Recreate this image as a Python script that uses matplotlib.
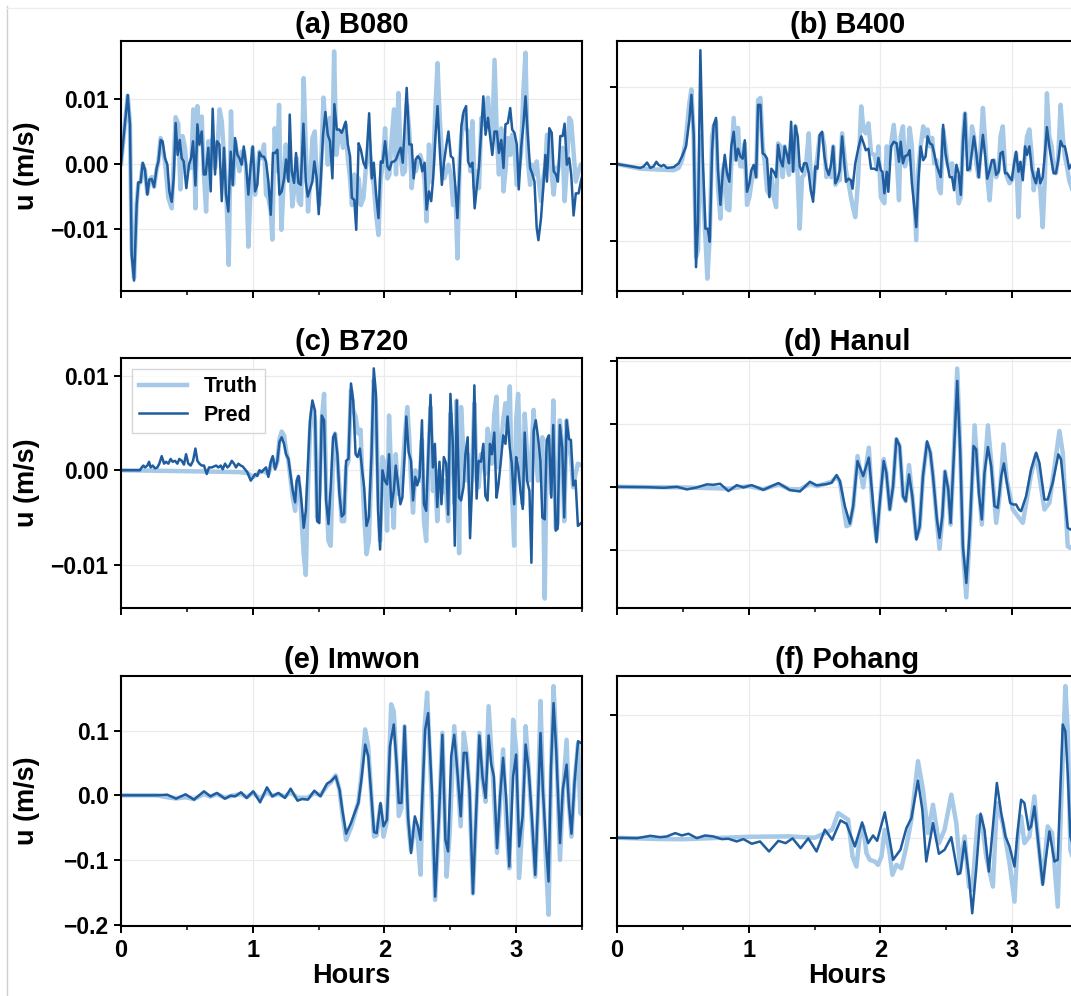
import matplotlib
matplotlib.use("Agg")
import matplotlib.pyplot as plt
from matplotlib.ticker import MultipleLocator
from matplotlib.lines import Line2D

plt.rcParams['font.family'] = ['Liberation Sans', 'DejaVu Sans']
plt.rcParams['font.weight'] = 'bold'
plt.rcParams['axes.titleweight'] = 'bold'
plt.rcParams['axes.labelweight'] = 'bold'
plt.rcParams['axes.unicode_minus'] = True

# ---------------- data: (hours, u [m/s]) ----------------
titles = ["(a) B080", "(b) B400", "(c) B720", "(d) Hanul", "(e) Imwon", "(f) Pohang"]

a_pred = [(0, 0), (0.051, 0.0106), (0.068, 0.0061), (0.081, -0.0139), (0.099, -0.0179), (0.119, -0.0063), (0.132, -0.0028), (0.149, -0.0028), (0.165, 0.0002), (0.182, -0.0009), (0.2, -0.0047), (0.215, -0.0024), (0.233, -0.0023), (0.251, -0.0035), (0.271, -0.0006), (0.284, 0.0004), (0.301, 0.0037), (0.316, 0.0035), (0.334, 0.0009), (0.352, -0.0001), (0.367, -0.0042), (0.385, -0.0058), (0.4, -0.0022), (0.415, 0.0063), (0.43, 0.0014), (0.446, 0.0037), (0.461, 0.0009), (0.476, 0.0004), (0.496, -0.0037), (0.516, -0.0001), (0.532, 0.0009), (0.547, 0.0035), (0.565, -0.0033), (0.58, 0.0061), (0.595, 0.003), (0.613, 0.005), (0.628, -0.0016), (0.643, -0.0016), (0.663, 0.0025), (0.681, -0.0042), (0.696, 0.0085), (0.714, -0.0016), (0.729, 0.0035), (0.747, 0.003), (0.765, -0.0057), (0.782, 0.0025), (0.797, -0.0047), (0.815, -0.0073), (0.833, 0.0019), (0.848, -0.0032), (0.866, 0.004), (0.884, 0.0014), (0.899, 0.0009), (0.916, -0.0001), (0.932, 0.0027), (0.949, -0.0001), (0.967, -0.0047), (0.985, -0.0001), (1.0, 0.0027), (1.018, -0.0042), (1.035, -0.0032), (1.051, 0.0018), (1.068, 0.0012), (1.086, 0.0011), (1.101, 0.0004), (1.119, -0.0027), (1.137, -0.0078), (1.154, 0.0017), (1.17, 0.0017), (1.187, 0.0022), (1.203, -0.0047), (1.22, -0.0042), (1.238, -0.0022), (1.253, 0.0007), (1.271, -0.0027), (1.281, 0.0076), (1.296, -0.0011), (1.314, -0.0029), (1.329, 0.0017), (1.347, -0.0029), (1.365, -0.0032), (1.385, 0.0062), (1.403, -0.0027), (1.418, -0.005), (1.435, -0.0039), (1.453, -0.0027), (1.468, 0.0004), (1.486, -0.0022), (1.501, -0.0077), (1.516, -0.0027), (1.534, 0.0045), (1.552, 0.008), (1.57, 0.0045), (1.587, 0.0035), (1.605, -0.0022), (1.62, 0.0092), (1.638, 0.0053), (1.656, 0.0053), (1.676, 0.0048), (1.689, 0.0055), (1.706, 0.0065), (1.722, 0.003), (1.739, 0.0012), (1.753, -0.0052), (1.771, -0.0055), (1.786, -0.0101), (1.804, 0.0032), (1.821, 0.0022), (1.841, 0.0002), (1.859, -0.0006), (1.884, 0.0078), (1.904, -0.0022), (1.919, 0.0002), (1.937, -0.0047), (1.955, -0.0083), (1.972, 0.0004), (1.987, 0.0002), (2.005, 0.0035), (2.023, -0.0004), (2.038, -0.0009), (2.055, 0.0003), (2.073, 0.0004), (2.088, 0.0007), (2.106, 0.0017), (2.123, 0.0025), (2.139, 0.0002), (2.169, 0.0117), (2.189, 0.003), (2.207, 0.003), (2.222, -0.0022), (2.237, 0.0007), (2.254, 0.0012), (2.272, 0.0007), (2.287, -0.0011), (2.305, 0.0002), (2.32, -0.007), (2.338, -0.0042), (2.355, -0.0057), (2.37, -0.0022), (2.388, 0.0045), (2.403, 0.0089), (2.421, 0.0019), (2.436, -0.0032), (2.453, 0.0004), (2.471, 0.003), (2.486, 0.005), (2.504, 0.0012), (2.521, 0.0009), (2.539, -0.0037), (2.554, -0.0083), (2.572, -0.0004), (2.584, 0.0058), (2.602, 0.0081), (2.62, 0.0089), (2.635, 0.0004), (2.652, -0.0004), (2.668, 0.0002), (2.685, -0.0068), (2.703, -0.0032), (2.718, -0.0004), (2.736, 0.0055), (2.751, 0.0104), (2.768, 0.0045), (2.786, 0.0071), (2.804, 0.004), (2.819, 0.0014), (2.836, 0.005), (2.854, 0.005), (2.869, 0.0017), (2.887, 0.0037), (2.904, -0.0006), (2.919, 0.0061), (2.937, 0.0063), (2.955, 0.0086), (2.97, 0.0053), (2.987, 0.0048), (3.005, 0.003), (3.02, -0.0039), (3.038, 0.0025), (3.055, 0.0061), (3.071, 0.0104), (3.088, 0.0045), (3.106, -0.0006), (3.121, -0.0014), (3.139, -0.0027), (3.156, -0.0098), (3.169, -0.0117), (3.189, -0.0083), (3.207, -0.0032), (3.222, 0.0014), (3.234, -0.0027), (3.252, 0.0055), (3.27, 0.0048), (3.285, -0.0011), (3.302, -0.0016), (3.317, -0.0027), (3.335, 0.0043), (3.353, 0.0043), (3.368, 0.0062), (3.385, -0.0001), (3.403, 0.0009), (3.418, -0.0016), (3.436, -0.0079), (3.453, -0.0045), (3.474, -0.0045), (3.491, -0.0027), (3.5, -0.002)]

a_truth = [(0, 0), (0.051, 0.0105), (0.068, 0.006), (0.081, -0.013), (0.099, -0.0175), (0.119, -0.006), (0.132, -0.003), (0.149, -0.0028), (0.165, 0.0), (0.182, -0.001), (0.2, -0.0045), (0.215, -0.0025), (0.233, -0.002), (0.251, -0.0035), (0.271, -0.0008), (0.284, 0.0005), (0.301, 0.004), (0.334, 0.0004), (0.359, -0.0052), (0.385, -0.0068), (0.415, 0.0072), (0.435, 0.0061), (0.451, -0.0039), (0.468, 0.0043), (0.486, 0.0025), (0.501, -0.0011), (0.516, -0.0001), (0.534, -0.0006), (0.549, 0.0084), (0.565, -0.0068), (0.58, 0.0089), (0.595, 0.003), (0.613, 0.0073), (0.628, -0.0011), (0.646, -0.0073), (0.663, 0.0035), (0.681, 0.0014), (0.696, 0.004), (0.714, -0.0006), (0.732, 0.0025), (0.749, 0.0084), (0.765, 0.0066), (0.782, 0.0014), (0.8, -0.0047), (0.818, -0.0155), (0.835, 0.0081), (0.851, -0.0032), (0.866, 0.0035), (0.884, 0.0009), (0.899, -0.0011), (0.916, 0.0019), (0.934, 0.0019), (0.949, -0.0006), (0.967, -0.0127), (0.985, -0.0032), (1.0, 0.0025), (1.018, -0.0047), (1.035, -0.0011), (1.051, 0.0019), (1.068, 0.0009), (1.086, 0.003), (1.101, -0.0047), (1.119, -0.0052), (1.137, -0.0073), (1.149, -0.0116), (1.167, 0.0055), (1.185, -0.0011), (1.2, 0.0091), (1.218, -0.0101), (1.235, -0.0027), (1.251, 0.003), (1.268, -0.0022), (1.284, 0.0004), (1.301, -0.0065), (1.316, -0.0037), (1.334, 0.0009), (1.349, -0.0057), (1.367, -0.0063), (1.387, 0.0132), (1.403, 0.0025), (1.42, -0.0073), (1.438, -0.0022), (1.453, 0.004), (1.471, 0.005), (1.486, -0.0022), (1.504, -0.0063), (1.522, 0.0014), (1.537, 0.0102), (1.554, 0.0055), (1.57, -0.0001), (1.587, 0.0071), (1.605, 0.0025), (1.618, 0.0173), (1.635, 0.0014), (1.651, 0.004), (1.668, 0.005), (1.686, 0.0025), (1.704, 0.0061), (1.722, 0.0009), (1.739, -0.0022), (1.753, -0.0063), (1.771, -0.0016), (1.786, -0.0063), (1.804, -0.0022), (1.821, -0.0063), (1.841, -0.0052), (1.859, -0.0006), (1.884, 0.0035), (1.904, -0.0016), (1.919, -0.0032), (1.937, -0.0078), (1.955, -0.0109), (1.972, -0.0022), (1.987, -0.0001), (2.005, 0.0055), (2.023, -0.0022), (2.038, -0.0016), (2.055, 0.004), (2.073, 0.0084), (2.088, -0.0016), (2.106, 0.0109), (2.123, 0.0014), (2.139, -0.0016), (2.156, -0.0011), (2.171, 0.0091), (2.189, 0.005), (2.207, -0.0037), (2.222, -0.0006), (2.239, -0.0011), (2.257, 0.0004), (2.272, 0.0014), (2.29, -0.0001), (2.305, -0.0027), (2.32, -0.0088), (2.338, 0.003), (2.355, -0.0027), (2.37, -0.0001), (2.388, 0.0091), (2.403, 0.0155), (2.421, 0.0066), (2.436, 0.0019), (2.453, -0.0022), (2.471, -0.0011), (2.486, -0.0001), (2.504, -0.0016), (2.521, -0.0063), (2.539, -0.0037), (2.554, -0.0145), (2.572, 0.0009), (2.584, 0.004), (2.602, 0.0076), (2.62, 0.0055), (2.635, 0.005), (2.652, -0.0011), (2.668, 0.0066), (2.685, -0.0037), (2.703, -0.0011), (2.718, -0.0037), (2.736, 0.0071), (2.751, 0.0061), (2.768, 0.0076), (2.786, 0.0102), (2.804, 0.0055), (2.819, 0.004), (2.836, 0.016), (2.854, 0.004), (2.869, -0.0016), (2.887, 0.0055), (2.904, -0.0042), (2.919, -0.0011), (2.937, 0.004), (2.955, 0.0014), (2.97, 0.0045), (2.987, 0.0025), (3.005, -0.0032), (3.02, -0.0011), (3.038, 0.0019), (3.055, 0.0112), (3.071, 0.0171), (3.088, 0.0009), (3.106, -0.0032), (3.121, -0.0001), (3.139, -0.0016), (3.156, 0.0004), (3.169, -0.0022), (3.189, -0.0057), (3.207, -0.0022), (3.222, -0.0001), (3.234, 0.0045), (3.252, 0.0045), (3.27, -0.0016), (3.285, -0.0047), (3.302, -0.0006), (3.317, -0.0011), (3.335, 0.0009), (3.353, 0.0025), (3.368, -0.0057), (3.385, -0.0006), (3.403, 0.0071), (3.418, 0.0066), (3.436, 0.0019), (3.453, -0.0027), (3.474, -0.0011), (3.491, -0.0001), (3.5, 0.0)]

b_pred = [(0, 0), (0.177, -0.0005), (0.203, -0.0003), (0.228, 0.0002), (0.253, -0.0005), (0.278, -0.0003), (0.299, 0.0003), (0.316, -0.0001), (0.337, -0.0003), (0.354, -0.0001), (0.38, -0.0005), (0.43, -0.0004), (0.468, 0.0001), (0.494, 0.001), (0.524, 0.0023), (0.549, 0.0057), (0.565, 0.009), (0.582, 0.004), (0.6, -0.0134), (0.615, -0.0077), (0.633, 0.0148), (0.651, 0.001), (0.671, -0.0084), (0.689, -0.0084), (0.704, -0.0101), (0.722, 0.0018), (0.734, 0.0051), (0.752, 0.006), (0.767, -0.0008), (0.785, -0.0053), (0.803, -0.0012), (0.818, 0.0012), (0.835, -0.0012), (0.853, -0.0023), (0.868, 0.0023), (0.886, 0.0042), (0.904, 0.0005), (0.919, 0.002), (0.937, 0.001), (0.954, 0.0007), (0.97, 0.0031), (0.987, -0.0036), (1.005, -0.0025), (1.02, -0.0008), (1.038, -0.0001), (1.056, -0.0017), (1.071, 0.0077), (1.089, 0.0077), (1.106, 0.0014), (1.122, 0.0012), (1.139, 0.0007), (1.157, -0.0043), (1.172, -0.0006), (1.19, -0.001), (1.208, -0.0017), (1.223, 0.0025), (1.241, 0.0005), (1.258, -0.0003), (1.273, 0.0023), (1.291, 0.0012), (1.306, 0.0001), (1.322, 0.0055), (1.337, -0.001), (1.354, 0.005), (1.372, 0.0036), (1.387, -0.0003), (1.405, -0.001), (1.42, 0.0001), (1.438, 0.0001), (1.456, -0.0012), (1.471, -0.0034), (1.489, -0.0049), (1.506, -0.0003), (1.522, -0.0006), (1.539, 0.0038), (1.557, 0.0042), (1.575, 0.001), (1.59, -0.0006), (1.608, -0.0014), (1.625, -0.0001), (1.641, 0.0023), (1.658, -0.0025), (1.676, -0.0019), (1.691, -0.0008), (1.709, 0.0036), (1.738, -0.0023), (1.758, -0.0019), (1.776, -0.0021), (1.788, -0.0032), (1.809, 0.0001), (1.829, 0.0018), (1.854, 0.0036), (1.872, 0.0027), (1.889, 0.0018), (1.909, 0.002), (1.929, -0.0006), (1.955, -0.0006), (1.972, -0.0008), (1.985, 0.0008), (2.003, -0.0008), (2.015, -0.001), (2.03, -0.0038), (2.048, -0.001), (2.06, -0.0036), (2.081, 0.0023), (2.101, 0.0029), (2.123, 0.0027), (2.141, 0.0003), (2.154, 0.0029), (2.171, 0.0001), (2.186, 0.001), (2.207, 0.0012), (2.222, 0.0018), (2.239, -0.0025), (2.257, -0.0055), (2.272, -0.0082), (2.287, -0.0025), (2.305, 0.0023), (2.325, 0.0005), (2.343, 0.001), (2.358, 0.0036), (2.375, 0.0027), (2.393, 0.0025), (2.408, 0.0014), (2.426, -0.0001), (2.443, -0.001), (2.458, -0.0017), (2.476, 0.0051), (2.494, 0.0014), (2.509, -0.0001), (2.526, -0.0017), (2.544, -0.0017), (2.559, -0.0034), (2.577, -0.0001), (2.594, -0.0012), (2.61, -0.004), (2.627, 0.0029), (2.642, 0.0066), (2.66, -0.0008), (2.678, -0.0006), (2.695, 0.0016), (2.71, 0.0036), (2.728, 0.0014), (2.746, -0.0017), (2.761, 0.001), (2.778, 0.0038), (2.796, 0.001), (2.811, -0.0019), (2.829, -0.0008), (2.846, 0.0005), (2.861, 0.0005), (2.879, -0.0014), (2.897, -0.001), (2.912, 0.0014), (2.929, 0.0016), (2.947, -0.0012), (2.962, -0.0012), (2.98, -0.0017), (2.997, -0.0021), (3.013, -0.0001), (3.03, 0.0016), (3.048, -0.001), (3.063, 0.0003), (3.081, -0.0021), (3.098, 0.0023), (3.113, 0.0012), (3.131, 0.0023), (3.149, -0.0006), (3.164, -0.0017), (3.181, -0.0025), (3.199, -0.0006), (3.214, -0.0025), (3.232, -0.0017), (3.249, 0.0014), (3.264, 0.0048), (3.282, 0.0023), (3.3, 0.0003), (3.315, -0.0012), (3.332, -0.0012), (3.35, 0.0005), (3.368, 0.003), (3.385, 0.0023), (3.4, 0.0023), (3.416, 0.001), (3.433, -0.0006), (3.47, 0.0005), (3.5, -0.001)]

b_truth = [(0, 0), (0.177, -0.0006), (0.3, -0.0007), (0.43, -0.0008), (0.468, -0.0005), (0.494, 0.0005), (0.519, 0.0027), (0.549, 0.0079), (0.565, 0.0097), (0.582, 0.0036), (0.6, -0.0121), (0.615, -0.0112), (0.633, 0.0036), (0.651, -0.003), (0.671, -0.0095), (0.686, -0.0149), (0.704, -0.0095), (0.722, 0.0036), (0.734, 0.0049), (0.752, 0.0055), (0.767, -0.003), (0.785, -0.0071), (0.803, -0.0008), (0.818, 0.0001), (0.835, -0.0058), (0.853, -0.006), (0.868, 0.0001), (0.886, 0.006), (0.904, 0.0005), (0.919, 0.0047), (0.937, -0.0003), (0.954, -0.0003), (0.97, 0.0027), (0.987, -0.0053), (1.005, -0.0043), (1.02, -0.0025), (1.038, -0.0006), (1.056, -0.0017), (1.071, 0.0083), (1.089, 0.0086), (1.106, 0.0023), (1.122, 0.0001), (1.139, -0.0034), (1.157, -0.004), (1.172, -0.0017), (1.19, -0.0043), (1.208, -0.0056), (1.223, 0.0027), (1.241, 0.0023), (1.258, -0.0017), (1.273, 0.0023), (1.291, 0.0001), (1.306, -0.0014), (1.322, 0.0031), (1.337, -0.0008), (1.354, 0.0049), (1.372, -0.0017), (1.387, -0.0084), (1.405, -0.0017), (1.42, -0.0014), (1.438, 0.0005), (1.456, 0.004), (1.471, -0.0017), (1.489, -0.0038), (1.506, -0.0008), (1.522, 0.001), (1.539, 0.0036), (1.557, 0.004), (1.575, 0.0023), (1.59, -0.0017), (1.608, -0.0008), (1.625, -0.0017), (1.641, 0.0023), (1.658, -0.0027), (1.676, -0.0021), (1.691, -0.0021), (1.709, 0.004), (1.738, -0.0008), (1.758, -0.0025), (1.776, -0.0043), (1.796, -0.006), (1.809, -0.0069), (1.829, -0.0025), (1.854, 0.0075), (1.872, 0.0045), (1.889, 0.004), (1.909, 0.0053), (1.929, 0.0014), (1.955, 0.0012), (1.972, -0.0003), (1.985, 0.0023), (2.003, -0.0043), (2.015, -0.0047), (2.03, -0.0051), (2.048, 0.0023), (2.06, 0.0001), (2.081, 0.0027), (2.101, 0.0051), (2.123, 0.001), (2.141, -0.0047), (2.154, 0.0036), (2.171, 0.0049), (2.186, -0.0003), (2.207, 0.001), (2.222, 0.0047), (2.239, 0.0023), (2.257, -0.0043), (2.272, -0.0099), (2.287, -0.0008), (2.305, 0.0023), (2.325, 0.0049), (2.343, 0.0036), (2.358, 0.0045), (2.375, 0.0023), (2.393, 0.0034), (2.408, 0.0001), (2.426, 0.0005), (2.443, -0.0032), (2.458, -0.0038), (2.476, 0.0045), (2.494, 0.0023), (2.509, 0.0001), (2.526, -0.0008), (2.544, 0.0001), (2.559, -0.0021), (2.577, -0.0017), (2.594, -0.0051), (2.61, -0.0043), (2.627, 0.0036), (2.642, 0.0066), (2.66, 0.0014), (2.678, -0.0008), (2.695, 0.0049), (2.71, 0.0036), (2.728, 0.0001), (2.746, -0.0017), (2.761, 0.0023), (2.778, 0.0073), (2.796, 0.0027), (2.811, -0.0017), (2.829, -0.0047), (2.846, -0.0008), (2.861, 0.0005), (2.879, -0.0017), (2.897, -0.0008), (2.912, 0.0036), (2.929, 0.0049), (2.947, -0.0008), (2.962, -0.0017), (2.98, -0.0025), (2.997, -0.0021), (3.013, -0.0012), (3.03, 0.0014), (3.048, -0.0069), (3.063, 0.0001), (3.081, -0.0008), (3.098, 0.001), (3.113, 0.0036), (3.131, 0.0045), (3.149, 0.001), (3.164, -0.0034), (3.181, -0.0012), (3.199, -0.0017), (3.214, -0.0034), (3.232, -0.0082), (3.249, -0.0017), (3.264, 0.0092), (3.282, 0.0036), (3.3, 0.0023), (3.315, -0.0008), (3.332, -0.0012), (3.35, 0.001), (3.368, 0.0077), (3.385, 0.0036), (3.4, 0.001), (3.416, -0.0003), (3.433, -0.0021), (3.46, -0.0035), (3.5, -0.002)]

c_pred = [(0, 0), (0.144, 0), (0.157, 0.0003), (0.17, 0.0005), (0.182, 0.0003), (0.2, 0.0005), (0.213, 0.0009), (0.225, 0.0003), (0.241, 0.0005), (0.258, 0.0002), (0.276, 0.0003), (0.291, 0.0007), (0.309, 0.0015), (0.327, 0.0007), (0.342, 0.0009), (0.359, 0.0007), (0.377, 0.0012), (0.392, 0.0009), (0.41, 0.001), (0.428, 0.0007), (0.443, 0.0012), (0.461, 0.001), (0.478, 0.0006), (0.494, 0.0017), (0.511, 0.0007), (0.529, 0.0005), (0.547, 0.001), (0.565, 0.0023), (0.58, 0.001), (0.595, 0.0007), (0.613, 0.0005), (0.63, 0.0005), (0.651, -0.0004), (0.668, 0.0003), (0.689, 0.0003), (0.706, 0.0004), (0.722, 0.0005), (0.739, 0.0003), (0.757, 0.0005), (0.772, 0.0001), (0.79, 0.0007), (0.808, 0.0003), (0.823, 0.0005), (0.841, 0.001), (0.858, 0.0007), (0.873, 0.0003), (0.891, 0.0007), (0.909, 0.0005), (0.924, 0.0004), (0.942, 0.0001), (0.959, -0.0002), (0.985, -0.0011), (1.0, -0.0008), (1.018, -0.0004), (1.035, -0.0006), (1.051, 0), (1.068, -0.0002), (1.086, 0.0001), (1.101, 0.0003), (1.119, -0.0007), (1.137, 0.0009), (1.152, 0.0015), (1.17, 0.0001), (1.187, 0.001), (1.203, 0.003), (1.22, 0.0035), (1.238, 0.0028), (1.253, 0.0017), (1.271, 0.0012), (1.289, -0.0007), (1.304, -0.0022), (1.322, -0.0034), (1.334, -0.0011), (1.347, -0.0006), (1.359, -0.0018), (1.372, -0.0036), (1.387, -0.0061), (1.403, -0.0043), (1.418, 0.0003), (1.435, 0.0053), (1.453, 0.0074), (1.473, 0.0063), (1.489, -0.0054), (1.506, -0.0056), (1.524, 0.0058), (1.542, 0.0053), (1.557, -0.0032), (1.575, -0.0057), (1.592, -0.0018), (1.61, 0.0035), (1.625, 0.0039), (1.643, 0.0017), (1.658, -0.0025), (1.676, -0.0049), (1.694, -0.0046), (1.709, 0.001), (1.727, 0.0012), (1.746, 0.0092), (1.763, 0.0074), (1.781, 0.0017), (1.796, 0.0014), (1.814, 0.0023), (1.831, 0.0), (1.846, -0.0018), (1.864, -0.0059), (1.882, -0.005), (1.902, 0.0017), (1.919, 0.0108), (1.935, 0.0081), (1.952, -0.0043), (1.967, -0.0084), (1.985, 0.0), (2.003, -0.0011), (2.02, -0.0015), (2.035, 0.0017), (2.053, -0.0039), (2.071, -0.0022), (2.086, 0.0005), (2.103, -0.0015), (2.121, -0.0036), (2.136, -0.0029), (2.154, 0.0017), (2.166, 0.0057), (2.184, 0.0019), (2.202, 0.001), (2.217, -0.0032), (2.234, -0.0007), (2.249, -0.0016), (2.267, -0.0007), (2.285, 0.0053), (2.3, -0.0036), (2.317, -0.0043), (2.335, 0.0024), (2.35, 0.008), (2.368, 0.0003), (2.383, 0.0028), (2.401, -0.0039), (2.418, 0.0009), (2.433, -0.0036), (2.451, 0.0014), (2.469, 0.0007), (2.484, -0.0047), (2.501, 0.0081), (2.519, 0.0028), (2.534, -0.008), (2.549, 0.0074), (2.567, -0.0029), (2.582, -0.0032), (2.6, -0.0018), (2.615, 0.0017), (2.632, 0.0035), (2.65, -0.0072), (2.668, -0.0007), (2.683, 0.009), (2.7, -0.003), (2.715, 0.001), (2.733, 0.0009), (2.751, 0.0028), (2.766, -0.0027), (2.783, -0.0032), (2.801, 0.0028), (2.816, 0.0017), (2.834, 0.004), (2.851, -0.0029), (2.866, -0.0015), (2.884, 0.001), (2.902, 0.0037), (2.919, 0.0028), (2.935, 0.0057), (2.952, 0.0024), (2.967, 0.0007), (2.985, -0.0036), (3.0, 0.0014), (3.015, 0.0003), (3.033, -0.0022), (3.05, -0.0041), (3.065, 0.004), (3.083, -0.0011), (3.101, -0.0022), (3.116, -0.0098), (3.133, 0.0042), (3.149, 0.0053), (3.166, 0.0035), (3.184, 0.001), (3.199, -0.005), (3.217, -0.0052), (3.232, 0.0032), (3.249, 0.0037), (3.267, -0.0029), (3.282, 0.0048), (3.3, -0.0064), (3.315, -0.0062), (3.332, 0.0048), (3.35, 0.0024), (3.365, -0.005), (3.383, 0.0053), (3.401, 0.0033), (3.416, 0.0032), (3.433, -0.0016), (3.451, -0.0011), (3.469, -0.0059), (3.5, -0.0055)]

c_truth = [(0, 0), (0.5, -0.0001), (0.9, -0.0002), (0.959, -0.0003), (1.005, -0.0007), (1.018, -0.0006), (1.051, -0.0002), (1.086, -0.0001), (1.119, -0.0004), (1.137, 0.0005), (1.152, 0.0012), (1.17, 0.0003), (1.187, 0.0009), (1.203, 0.0033), (1.22, 0.0041), (1.238, 0.0037), (1.253, 0.0021), (1.271, 0.001), (1.289, -0.0011), (1.304, -0.0029), (1.322, -0.0043), (1.334, -0.0018), (1.347, -0.0007), (1.359, -0.0025), (1.372, -0.0054), (1.387, -0.0089), (1.403, -0.0111), (1.418, -0.0025), (1.435, 0.0042), (1.453, 0.0067), (1.473, 0.0053), (1.489, -0.005), (1.506, -0.0025), (1.524, 0.0053), (1.542, 0.0081), (1.557, -0.0018), (1.575, -0.0075), (1.592, -0.008), (1.61, 0.0017), (1.625, 0.0039), (1.643, 0.001), (1.658, -0.0018), (1.676, -0.0054), (1.694, -0.0054), (1.709, 0.0003), (1.727, 0.001), (1.746, 0.0085), (1.763, 0.0064), (1.781, 0.0057), (1.801, 0.0039), (1.819, 0.0043), (1.831, -0.0004), (1.846, -0.0047), (1.864, -0.0089), (1.882, -0.0075), (1.902, 0.0007), (1.919, 0.0096), (1.935, 0.0071), (1.952, -0.0018), (1.967, -0.0075), (1.985, 0.0014), (2.003, 0.0007), (2.02, -0.0064), (2.035, 0.0058), (2.053, -0.0011), (2.071, -0.0061), (2.086, 0.0017), (2.103, -0.0025), (2.121, -0.0018), (2.136, -0.0004), (2.154, 0.0035), (2.174, 0.0067), (2.189, 0.0032), (2.202, -0.0011), (2.217, -0.0045), (2.234, 0.0), (2.249, -0.0007), (2.267, -0.0011), (2.285, 0.0032), (2.3, -0.0054), (2.317, -0.0075), (2.335, 0.0017), (2.35, 0.0067), (2.368, -0.0022), (2.383, 0.0007), (2.401, -0.0054), (2.418, 0.0), (2.433, -0.0025), (2.451, -0.0011), (2.469, -0.0025), (2.484, -0.0054), (2.501, 0.006), (2.519, 0.0017), (2.534, -0.0036), (2.549, 0.0074), (2.567, -0.0088), (2.582, 0.0067), (2.6, 0.0017), (2.615, -0.0011), (2.632, 0.0017), (2.65, -0.0025), (2.668, 0.001), (2.683, 0.0071), (2.7, -0.0011), (2.715, -0.0018), (2.733, 0.0017), (2.751, 0.0007), (2.766, -0.0004), (2.783, 0.0044), (2.801, 0.0032), (2.816, 0.0007), (2.834, 0.006), (2.851, 0.0078), (2.866, 0.0003), (2.884, 0.0024), (2.902, 0.0053), (2.919, 0.0071), (2.935, 0.0046), (2.952, 0.0089), (2.967, -0.0018), (2.985, -0.008), (3.0, 0.0053), (3.015, 0.0081), (3.033, 0.0007), (3.05, -0.0036), (3.065, 0.006), (3.083, 0.0017), (3.101, -0.0011), (3.116, 0.0017), (3.133, 0.0064), (3.149, 0.0017), (3.166, -0.0011), (3.184, 0.0017), (3.199, 0.0035), (3.217, -0.0136), (3.232, 0.0017), (3.249, 0.0032), (3.267, -0.0025), (3.282, 0.0074), (3.3, -0.0061), (3.315, -0.0057), (3.332, 0.0053), (3.35, 0.0024), (3.365, -0.0054), (3.383, 0.0053), (3.401, 0.0024), (3.416, 0.0014), (3.433, -0.0018), (3.451, -0.0004), (3.469, 0.0007), (3.5, 0.0005)]

d_pred = [(0, 0), (0.227, -0.0003), (0.354, -0.0008), (0.455, 0), (0.53, -0.0021), (0.606, -0.0005), (0.682, 0.0019), (0.732, 0.0016), (0.783, 0.0024), (0.846, -0.0034), (0.909, 0.0013), (0.96, -0.0005), (1.023, 0.0013), (1.111, -0.0024), (1.225, 0.0029), (1.313, -0.0026), (1.389, -0.0037), (1.465, 0.004), (1.515, 0.0011), (1.591, 0.0021), (1.629, 0.0032), (1.667, 0.0093), (1.692, 0.0045), (1.73, -0.0153), (1.768, -0.0291), (1.793, -0.0153), (1.826, 0.0204), (1.869, 0.0085), (1.912, 0.0231), (1.939, -0.0074), (1.97, -0.0439), (1.995, -0.0127), (2.025, 0.0204), (2.045, 0.0111), (2.071, -0.018), (2.096, 0.0005), (2.121, 0.0381), (2.146, 0.0323), (2.172, -0.0074), (2.192, -0.0114), (2.217, 0.0098), (2.242, -0.0074), (2.273, -0.0418), (2.298, -0.0312), (2.323, 0.0085), (2.354, 0.036), (2.379, 0.027), (2.399, 0.0085), (2.429, -0.0259), (2.449, -0.0405), (2.47, -0.0233), (2.49, 0.0122), (2.515, -0.0021), (2.533, -0.0286), (2.556, 0.0217), (2.583, 0.0839), (2.606, 0.027), (2.626, -0.0471), (2.652, -0.0762), (2.677, -0.0365), (2.707, 0.0323), (2.727, 0.0296), (2.747, -0.0048), (2.77, -0.0259), (2.79, 0.0111), (2.816, 0.0315), (2.841, 0.0164), (2.866, -0.0153), (2.891, -0.0167), (2.917, 0.0085), (2.937, 0.0185), (2.96, 0.0032), (2.985, -0.0127), (3.005, -0.014), (3.03, -0.014), (3.051, -0.018), (3.068, -0.0193), (3.106, -0.0074), (3.144, 0.0138), (3.182, 0.027), (3.207, 0.019), (3.245, -0.0101), (3.27, -0.0101), (3.308, 0.0032), (3.351, 0.0257), (3.371, 0.0217), (3.396, -0.0048), (3.422, -0.0325), (3.442, -0.0339), (3.5, -0.03)]

d_truth = [(0, 0), (0.5, -0.0005), (0.85, -0.0015), (1.0, 0.0005), (1.11, -0.002), (1.23, 0.002), (1.31, -0.002), (1.39, -0.002), (1.465, 0.0025), (1.52, 0.0005), (1.63, 0.004), (1.667, 0.008), (1.692, 0.004), (1.742, -0.0312), (1.768, -0.03), (1.793, -0.016), (1.826, 0.0243), (1.869, -0.0005), (1.912, 0.031), (1.939, -0.0153), (1.97, -0.0418), (1.995, -0.0127), (2.025, 0.022), (2.045, 0.0111), (2.071, -0.018), (2.096, 0.0005), (2.121, 0.0376), (2.146, 0.0323), (2.172, -0.0074), (2.192, -0.0114), (2.217, 0.0172), (2.242, -0.0074), (2.273, -0.0405), (2.298, -0.0325), (2.323, 0.0085), (2.354, 0.0347), (2.379, 0.027), (2.399, 0.0085), (2.429, -0.028), (2.449, -0.0492), (2.47, -0.025), (2.49, 0.0122), (2.515, -0.0021), (2.533, -0.0299), (2.556, 0.024), (2.583, 0.0937), (2.606, 0.029), (2.626, -0.05), (2.652, -0.0876), (2.677, -0.04), (2.715, 0.0487), (2.74, 0.01), (2.77, -0.0299), (2.79, 0.0111), (2.816, 0.0487), (2.841, 0.02), (2.879, -0.0286), (2.904, -0.008), (2.934, 0.0336), (2.96, 0.005), (3.005, -0.018), (3.081, -0.0286), (3.144, 0.01), (3.182, 0.0257), (3.245, -0.018), (3.283, -0.0127), (3.359, 0.0442), (3.384, 0.027), (3.422, -0.0471), (3.442, -0.0484), (3.5, -0.045)]

e_pred = [(0, 0), (0.186, 0), (0.273, 0), (0.351, 0.001), (0.418, -0.0052), (0.49, 0.0016), (0.554, -0.0067), (0.63, 0.0062), (0.679, -0.0016), (0.728, 0.0036), (0.789, -0.0052), (0.833, -0.0005), (0.867, -0.0016), (0.911, 0.0047), (0.954, -0.0041), (1.004, 0.0062), (1.056, -0.0109), (1.108, 0.0124), (1.149, -0.0016), (1.195, 0.0036), (1.245, -0.0041), (1.288, 0.0103), (1.34, -0.0083), (1.375, -0.0057), (1.419, -0.0067), (1.468, 0.0072), (1.514, -0.0016), (1.564, 0.0181), (1.593, 0.0217), (1.63, 0.0295), (1.659, 0.0088), (1.68, -0.0222), (1.709, -0.0595), (1.746, -0.0429), (1.775, -0.0264), (1.802, -0.0119), (1.825, 0.0243), (1.854, 0.0786), (1.877, 0.0605), (1.897, 0.0088), (1.921, -0.0569), (1.941, -0.0585), (1.97, -0.0119), (1.993, -0.048), (2.019, -0.0377), (2.042, 0.0761), (2.071, 0.1097), (2.092, 0.0502), (2.109, -0.0119), (2.129, -0.0119), (2.153, 0.1069), (2.179, -0.0326), (2.202, -0.0895), (2.231, -0.0326), (2.254, -0.048), (2.274, -0.0688), (2.309, 0.1014), (2.332, 0.1273), (2.361, 0.0036), (2.385, -0.1568), (2.414, -0.0326), (2.44, 0.0936), (2.463, -0.0688), (2.483, -0.0869), (2.507, 0.0605), (2.53, 0.0936), (2.553, 0.0398), (2.579, -0.0326), (2.602, 0.0657), (2.623, 0.0657), (2.646, 0.0088), (2.672, -0.1521), (2.695, -0.0326), (2.721, 0.0926), (2.744, 0.0295), (2.768, -0.0041), (2.791, 0.0926), (2.811, 0.048), (2.831, 0.0295), (2.855, -0.0817), (2.878, -0.0016), (2.901, 0.058), (2.924, -0.0041), (2.948, -0.1102), (2.977, 0.0295), (3.0, 0.0631), (3.023, -0.0791), (3.049, -0.0326), (3.072, 0.0786), (3.095, 0.0398), (3.119, -0.0326), (3.145, -0.1231), (3.165, -0.0171), (3.185, 0.0966), (3.203, 0.0088), (3.226, -0.074), (3.246, -0.1334), (3.264, 0.0398), (3.284, 0.1428), (3.304, 0.0709), (3.333, -0.074), (3.354, 0.0088), (3.383, 0.0476), (3.4, -0.0119), (3.42, -0.0595), (3.443, 0.0191), (3.47, 0.0838), (3.5, 0.08)]

e_truth = [(0, 0), (0.273, 0), (0.351, -0.003), (0.418, -0.005), (0.49, -0.003), (0.554, -0.006), (0.63, 0.002), (0.679, -0.002), (0.728, 0.002), (0.789, -0.004), (0.833, -0.001), (0.911, 0.002), (0.954, -0.003), (1.004, 0.004), (1.056, -0.006), (1.108, 0.006), (1.149, -0.001), (1.195, 0.002), (1.245, -0.002), (1.288, 0.005), (1.34, -0.004), (1.419, -0.004), (1.468, 0.004), (1.514, 0.0), (1.564, 0.015), (1.593, 0.02), (1.63, 0.031), (1.659, 0.008), (1.68, -0.028), (1.709, -0.069), (1.746, -0.05), (1.775, -0.03), (1.802, -0.01), (1.825, 0.03), (1.854, 0.102), (1.877, 0.075), (1.897, 0.01), (1.921, -0.064), (1.941, -0.062), (1.97, -0.015), (1.993, -0.064), (2.019, -0.04), (2.051, 0.141), (2.071, 0.13), (2.092, 0.05), (2.109, -0.032), (2.129, -0.02), (2.153, 0.107), (2.179, -0.04), (2.202, -0.085), (2.231, -0.04), (2.254, -0.07), (2.274, -0.123), (2.303, 0.1), (2.324, 0.159), (2.356, 0.01), (2.385, -0.162), (2.414, -0.035), (2.44, 0.0967), (2.472, -0.126), (2.495, -0.06), (2.53, 0.107), (2.553, 0.04), (2.579, -0.048), (2.602, 0.097), (2.628, 0.06), (2.646, 0.005), (2.672, -0.152), (2.695, -0.035), (2.721, 0.0967), (2.744, 0.025), (2.768, -0.01), (2.791, 0.138), (2.826, 0.02), (2.855, -0.089), (2.878, -0.01), (2.901, 0.071), (2.924, -0.038), (2.948, -0.113), (2.977, 0.117), (3.0, 0.07), (3.023, -0.128), (3.049, -0.04), (3.072, 0.107), (3.095, 0.04), (3.119, -0.04), (3.145, -0.126), (3.165, -0.02), (3.185, 0.146), (3.203, 0.02), (3.226, -0.1), (3.246, -0.185), (3.264, 0.03), (3.284, 0.169), (3.304, 0.08), (3.333, -0.1), (3.354, 0.0), (3.383, 0.086), (3.4, -0.01), (3.42, -0.064), (3.443, 0.02), (3.47, 0.08), (3.487, -0.027), (3.5, -0.03)]

f_pred = [(0, 0), (0.152, -0.0003), (0.253, 0.0016), (0.328, 0.0005), (0.379, 0.0011), (0.442, 0.0038), (0.492, 0.0019), (0.543, 0.0033), (0.606, -0.0003), (0.669, 0.0019), (0.732, 0.0011), (0.795, -0.0011), (0.846, -0.0008), (0.909, -0.003), (0.96, -0.0011), (1.023, -0.0049), (1.086, -0.003), (1.154, -0.0112), (1.225, -0.0025), (1.28, -0.0044), (1.333, -0.0005), (1.394, -0.0085), (1.452, -0.0005), (1.515, -0.0112), (1.578, 0.0066), (1.634, -0.0016), (1.697, 0.0142), (1.742, 0.0115), (1.806, -0.0071), (1.861, 0.0126), (1.907, -0.0044), (1.944, 0.0019), (1.975, -0.0025), (2.033, 0.0208), (2.066, 0.0011), (2.096, -0.018), (2.152, -0.0098), (2.197, 0.0079), (2.235, 0.016), (2.285, 0.0467), (2.318, 0.0229), (2.348, -0.0194), (2.399, 0.012), (2.444, -0.0131), (2.487, -0.0098), (2.538, 0.0005), (2.588, -0.0298), (2.606, -0.029), (2.639, -0.003), (2.672, -0.0317), (2.697, -0.0617), (2.727, -0.0262), (2.76, 0.0197), (2.79, 0.0066), (2.823, -0.0276), (2.854, 0.0093), (2.884, 0.0448), (2.917, 0.0202), (2.949, 0.0011), (2.98, -0.0071), (3.018, -0.0235), (3.043, 0.0066), (3.068, 0.0311), (3.093, 0.0284), (3.126, 0.0066), (3.144, 0.0093), (3.169, 0.0257), (3.199, -0.0044), (3.232, -0.0385), (3.253, -0.0194), (3.283, 0.0052), (3.321, -0.0194), (3.346, -0.018), (3.384, 0.0926), (3.404, 0.0871), (3.422, 0.053), (3.442, 0.0011), (3.5, -0.02)]

f_truth = [(0, 0), (0.3, -0.001), (0.5, -0.0012), (0.8, 0.0), (1.0, 0.0008), (1.3, 0.0012), (1.5, 0.0), (1.578, 0.0038), (1.634, 0.0066), (1.679, 0.0202), (1.717, 0.0175), (1.755, 0.0148), (1.788, -0.0153), (1.818, -0.0235), (1.843, 0.0011), (1.869, 0.0093), (1.894, -0.0126), (1.919, -0.018), (1.957, -0.0194), (1.982, -0.0221), (2.008, -0.0153), (2.033, 0.0066), (2.066, -0.0098), (2.091, -0.0303), (2.121, -0.0221), (2.159, -0.0249), (2.197, -0.0071), (2.235, 0.0148), (2.285, 0.0626), (2.323, 0.0393), (2.361, 0.0038), (2.399, 0.027), (2.444, -0.0044), (2.487, 0.0066), (2.538, 0.0352), (2.576, 0.012), (2.606, -0.0262), (2.639, 0.0011), (2.672, -0.0399), (2.697, -0.0426), (2.74, 0.0175), (2.765, 0.0175), (2.803, -0.0153), (2.854, -0.0399), (2.884, 0.0284), (2.929, 0.012), (2.98, -0.0208), (3.018, -0.0522), (3.043, 0.0011), (3.068, 0.0175), (3.093, -0.0044), (3.131, 0.0011), (3.169, 0.0339), (3.199, -0.0044), (3.232, -0.0372), (3.27, 0.0093), (3.303, 0.0038), (3.346, -0.0563), (3.374, 0.0339), (3.404, 0.124), (3.422, 0.0885), (3.442, -0.0098), (3.5, -0.03)]

truth_series = [a_truth, b_truth, c_truth, d_truth, e_truth, f_truth]
pred_series = [a_pred, b_pred, c_pred, d_pred, e_pred, f_pred]
ylims = [(-0.0195, 0.0189), (-0.0165, 0.016), (-0.0146, 0.0119),
         (-0.096, 0.102), (-0.2023, 0.1847), (-0.0721, 0.1322)]
yticks = [[-0.01, 0.0, 0.01], [-0.01, 0.0, 0.01], [-0.01, 0.0, 0.01],
          [-0.05, 0.0, 0.05, 0.1], [-0.2, -0.1, 0.0, 0.1], [0.0, 0.1]]

TRUTH_C = '#a7c9e8'
PRED_C = '#1f5d9e'

W, H = 1071, 996
fig = plt.figure(figsize=(W / 100, H / 100), dpi=100)

# faint frame remnants at the left and top edges
fig.add_artist(Line2D([7 / W, 7 / W], [0, 1 - 6 / H], color='#cfcfcf', lw=1.0))
fig.add_artist(Line2D([7 / W, 1], [1 - 8 / H, 1 - 8 / H], color='#eeeeee', lw=1.0))

col_x = [121 / W, 617 / W]
ax_w = 461 / W
row_top = [41, 358, 676]
ax_h = 250 / H

for i in range(6):
    row, col = divmod(i, 2)
    y0 = 1 - (row_top[row] + 250) / H
    ax = fig.add_axes([col_x[col], y0, ax_w, ax_h])
    tt, tu = zip(*truth_series[i])
    pt, pu = zip(*pred_series[i])
    ax.plot(tt, tu, color=TRUTH_C, lw=3.2, label='Truth', solid_joinstyle='round')
    ax.plot(pt, pu, color=PRED_C, lw=1.8, label='Pred', solid_joinstyle='round')
    ax.set_xlim(0, 3.5)
    ax.set_ylim(*ylims[i])
    ax.set_yticks(yticks[i])
    ax.xaxis.set_major_locator(MultipleLocator(1))
    ax.xaxis.set_minor_locator(MultipleLocator(0.5))
    ax.grid(True, which='major', color='#ebebeb', lw=0.9)
    ax.set_axisbelow(True)
    for s in ax.spines.values():
        s.set_linewidth(1.5)
        s.set_color('black')
    ax.tick_params(axis='both', which='major', direction='out', length=5, width=1.4)
    ax.tick_params(axis='y', which='major', labelsize=16.5, pad=4)
    ax.tick_params(axis='x', which='major', labelsize=17, pad=4)
    ax.tick_params(axis='x', which='minor', direction='out', length=3, width=1.1)
    for lab in ax.get_xticklabels() + ax.get_yticklabels():
        lab.set_fontweight('bold')
    ax.set_title(titles[i], fontsize=21, fontweight='bold', pad=6)
    if col == 1:
        ax.tick_params(labelleft=False)
    else:
        ax.set_ylabel('u (m/s)', fontsize=19.5, fontweight='bold')
        ax.yaxis.set_label_coords(-0.176, 0.5)
    if row < 2:
        ax.tick_params(labelbottom=False)
    else:
        ax.set_xlabel('Hours', fontsize=19.5, fontweight='bold', labelpad=1)
    if i == 2:
        leg = ax.legend(loc='upper left', fontsize=15.5, frameon=True, fancybox=False,
                        handlelength=2.2, borderpad=0.35, labelspacing=0.35,
                        handletextpad=0.8, borderaxespad=0.5)
        leg.get_frame().set_edgecolor('#cccccc')
        leg.get_frame().set_linewidth(1.0)
        for txt in leg.get_texts():
            txt.set_fontweight('bold')

fig.savefig('out.png', dpi=100)
